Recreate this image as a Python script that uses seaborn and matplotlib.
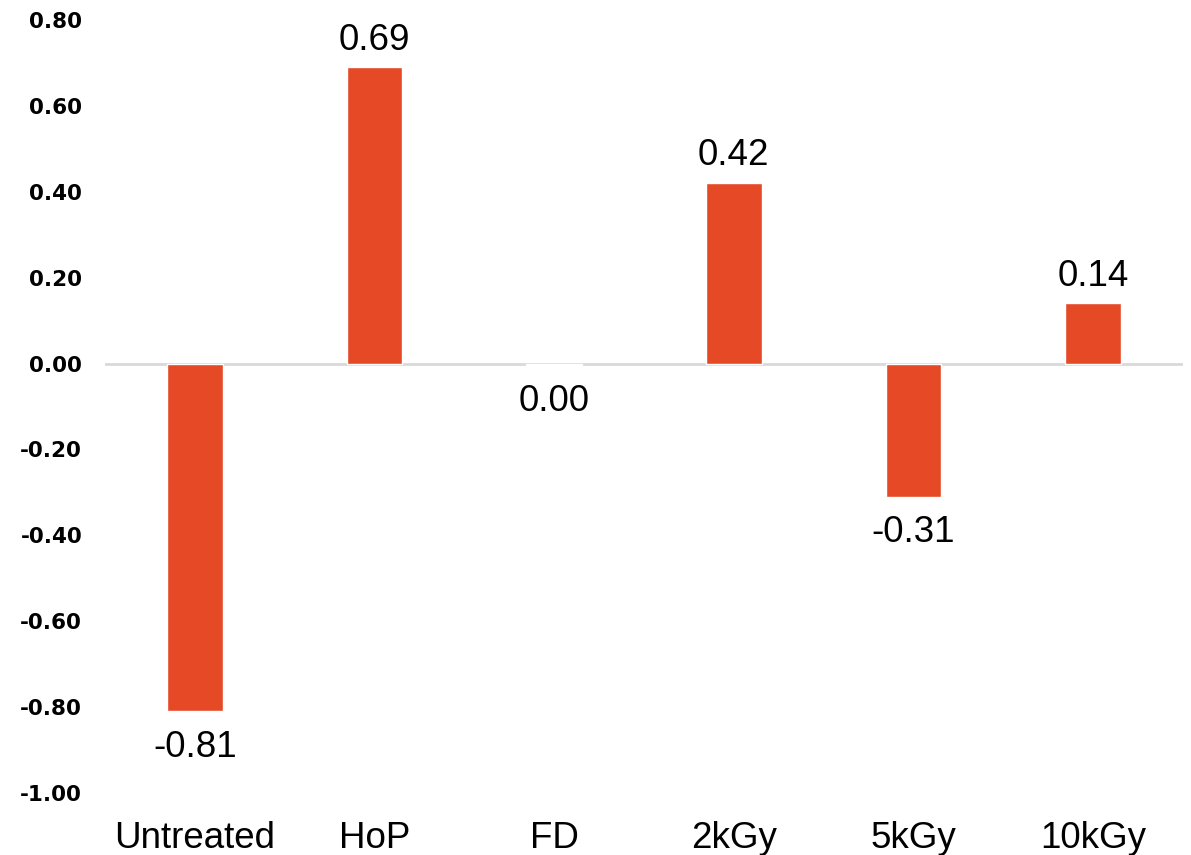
import matplotlib
matplotlib.use("Agg")
import matplotlib.pyplot as plt
import seaborn as sns
import pandas as pd

categories = ["Untreated", "HoP", "FD", "2kGy", "5kGy", "10kGy"]
values = [-0.81, 0.69, -0.004, 0.42, -0.31, 0.14]
y_ticks = [-1.00, -0.80, -0.60, -0.40, -0.20, 0.00, 0.20, 0.40, 0.60, 0.80]

bar_color = "#E64926"

sns.set_theme(style="white")
plt.rcParams["font.family"] = ["Liberation Sans", "DejaVu Sans"]
plt.rcParams["text.color"] = "black"
plt.rcParams["xtick.color"] = "black"
plt.rcParams["ytick.color"] = "black"

df = pd.DataFrame({"treatment": categories, "value": values})

fig = plt.figure(figsize=(11.91, 8.55), dpi=100)
ax = fig.add_axes([0.0882, 0.0725, 0.9051, 0.9041])

sns.barplot(data=df, x="treatment", y="value", color=bar_color,
            width=0.31, saturation=1, ax=ax, order=categories)

ax.set_ylim(-1.0, 0.8)
ax.set_xlim(-0.5, len(categories) - 0.5)
ax.set_yticks(y_ticks)
ax.set_yticklabels([f"{t:.2f}" for t in y_ticks], fontfamily="DejaVu Sans",
                   fontweight="bold", fontsize=15.5)
ax.tick_params(axis="y", length=0, pad=16.5)
ax.tick_params(axis="x", length=0, pad=20, labelsize=26.5)
ax.set_xlabel("")
ax.set_ylabel("")

for s in ax.spines.values():
    s.set_visible(False)
ax.axhline(0, color="#D9D9D9", lw=2, zorder=0.5)

# value labels: above positive bars, below negative (and zero) bars
for i, v in enumerate(values):
    text = f"{round(v, 2) + 0.0:.2f}"
    if v > 0:
        ax.annotate(text, (i, v), xytext=(0, 7), textcoords="offset points",
                    ha="center", va="bottom", fontsize=26.5)
    else:
        ax.annotate(text, (i, v), xytext=(0, -13.5), textcoords="offset points",
                    ha="center", va="top", fontsize=26.5)

fig.savefig("out.png", dpi=100)
